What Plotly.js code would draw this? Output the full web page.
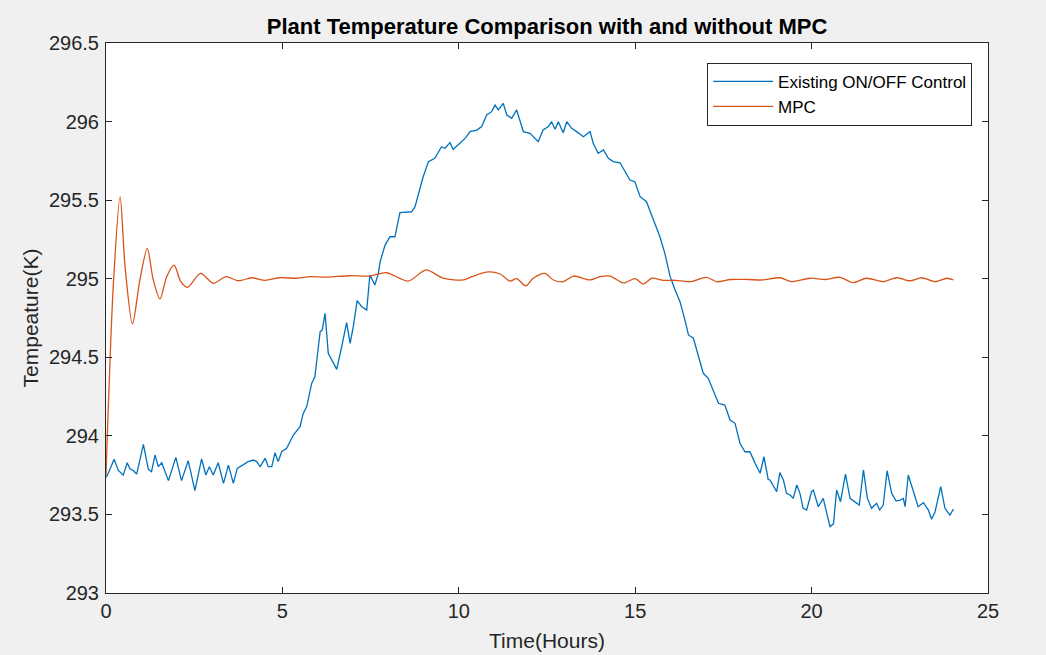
<!DOCTYPE html>
<html>
<head>
<meta charset="utf-8">
<script src="https://cdn.plot.ly/plotly-3.0.1.min.js"></script>
<style>
html,body{margin:0;padding:0;background:#f0f0f0;}
#chart{width:1046px;height:655px;}
</style>
</head>
<body>
<div id="chart"></div>
<script>
// Existing ON/OFF control (hours, K)
const timeOnOff = [0.00,0.04,0.23,0.35,0.49,0.60,0.68,0.77,0.87,1.06,1.20,1.29,1.39,1.48,1.58,1.77,1.98,2.14,2.33,2.52,2.71,2.83,2.93,3.04,3.18,3.33,3.47,3.61,3.72,3.94,4.03,4.18,4.27,4.37,4.51,4.60,4.70,4.79,4.88,4.98,5.12,5.31,5.50,5.59,5.69,5.83,5.92,6.02,6.07,6.13,6.21,6.30,6.44,6.54,6.68,6.82,6.92,7.01,7.12,7.25,7.39,7.48,7.62,7.72,7.77,7.91,8.05,8.19,8.33,8.52,8.66,8.76,8.99,9.14,9.32,9.51,9.61,9.75,9.84,10.03,10.18,10.32,10.51,10.65,10.79,10.93,11.03,11.12,11.26,11.36,11.50,11.64,11.73,11.83,12.02,12.11,12.25,12.39,12.54,12.63,12.73,12.82,12.96,13.06,13.20,13.34,13.53,13.72,13.81,13.95,14.10,14.24,14.38,14.57,14.71,14.85,14.99,15.14,15.32,15.51,15.70,15.84,15.99,16.13,16.27,16.41,16.51,16.65,16.79,16.93,17.07,17.21,17.36,17.54,17.69,17.83,17.97,18.11,18.25,18.40,18.54,18.65,18.77,18.82,19.01,19.10,19.20,19.29,19.39,19.48,19.58,19.67,19.76,19.86,20.00,20.05,20.19,20.33,20.52,20.62,20.71,20.82,20.96,21.09,21.23,21.35,21.47,21.58,21.70,21.84,21.93,22.03,22.14,22.27,22.39,22.50,22.60,22.65,22.74,22.88,23.02,23.17,23.31,23.40,23.50,23.66,23.78,23.92,24.02];
const tempOnOff = [293.736,293.750,293.851,293.780,293.750,293.829,293.790,293.780,293.757,293.946,293.787,293.772,293.878,293.804,293.829,293.715,293.863,293.715,293.842,293.651,293.853,293.751,293.804,293.751,293.829,293.698,293.814,293.698,293.793,293.825,293.836,293.846,293.836,293.804,293.857,293.804,293.804,293.893,293.836,293.899,293.921,294.005,294.058,294.143,294.186,294.334,294.376,294.567,294.663,294.674,294.780,294.525,294.462,294.423,294.567,294.720,294.589,294.695,294.860,294.822,294.801,295.024,294.960,295.034,295.108,295.214,295.267,295.267,295.420,295.426,295.426,295.458,295.649,295.745,295.766,295.840,295.830,295.866,295.823,295.862,295.893,295.936,295.946,295.968,296.042,296.063,296.105,296.074,296.116,296.042,296.021,296.074,296.010,295.936,295.925,295.904,295.872,295.946,295.968,295.999,295.951,295.999,295.929,295.999,295.957,295.936,295.904,295.936,295.862,295.798,295.819,295.766,295.745,295.738,295.681,295.628,295.617,295.522,295.490,295.374,295.267,295.161,295.013,294.928,294.854,294.737,294.642,294.621,294.504,294.398,294.366,294.292,294.207,294.196,294.101,294.080,293.953,293.899,293.899,293.825,293.762,293.867,293.723,293.719,293.645,293.766,293.719,293.634,293.624,293.602,293.687,293.634,293.539,293.528,293.645,293.655,293.549,293.602,293.422,293.440,293.655,293.581,293.757,293.602,293.581,293.560,293.783,293.602,293.539,293.571,293.528,293.560,293.778,293.634,293.587,293.590,293.602,293.549,293.751,293.645,293.549,293.575,293.528,293.469,293.517,293.677,293.539,293.496,293.534];

// MPC (hours, K)
const timeMPC = [0.00,0.21,0.40,0.54,0.75,0.96,1.17,1.34,1.53,1.72,1.93,2.12,2.31,2.68,3.04,3.40,3.75,4.13,4.51,4.93,5.40,5.78,6.25,6.92,7.48,7.95,8.57,9.07,9.56,10.13,10.37,10.84,11.17,11.45,11.64,11.90,12.11,12.44,12.68,12.96,13.25,13.72,14.00,14.29,14.66,15.00,15.23,15.47,15.80,16.13,16.56,17.02,17.31,17.70,18.20,18.60,19.10,19.43,19.95,20.40,20.80,21.18,21.56,22.03,22.41,22.79,23.12,23.50,23.83,24.02];
const tempMPC = [293.751,294.971,295.522,295.077,294.712,294.992,295.193,294.992,294.871,295.013,295.087,294.981,294.945,295.034,294.971,295.013,294.987,295.006,294.990,295.006,295.003,295.013,295.010,295.019,295.017,295.038,294.985,295.056,295.003,294.992,295.013,295.043,295.030,294.985,295.000,294.954,295.003,295.034,294.992,294.981,295.017,294.992,295.013,295.017,294.973,295.000,294.966,295.003,294.990,294.990,294.981,295.009,294.981,294.995,294.995,294.992,295.006,294.981,295.003,294.995,295.009,294.975,295.003,294.981,295.006,294.987,295.006,294.981,295.003,294.992];

const seriesNames = ["Existing ON/OFF Control", "MPC"];
const xTicks = [0,5,10,15,20,25];
const yTicks = [293,293.5,294,294.5,295,295.5,296,296.5];

const FONT = '"Liberation Sans", Arial, Helvetica, sans-serif';

const traces = [
  {x: timeOnOff, y: tempOnOff, type: 'scatter', mode: 'lines', name: seriesNames[0],
   line: {color: '#0072BD', width: 1.3}},
  {x: timeMPC, y: tempMPC, type: 'scatter', mode: 'lines', name: seriesNames[1],
   line: {color: '#D95319', width: 1.3, shape: 'spline', smoothing: 0.8}}
];

const axisCommon = {
  showline: true, mirror: 'ticks', linecolor: '#262626', linewidth: 1,
  ticks: 'inside', ticklen: 6, tickcolor: '#262626', tickwidth: 1,
  showgrid: false, zeroline: false,
  tickfont: {family: FONT, size: 20, color: '#262626'}
};

const layout = {
  width: 1046, height: 655,
  paper_bgcolor: '#f0f0f0', plot_bgcolor: '#ffffff',
  margin: {l: 106, r: 58, t: 43, b: 62, pad: 0},
  title: {text: '<b>Plant Temperature Comparison with and without MPC</b>',
          font: {family: FONT, size: 22, color: '#000000'},
          x: 0.523, xanchor: 'center', y: 0.96, yanchor: 'middle', yref: 'container'},
  xaxis: Object.assign({}, axisCommon, {
    range: [0, 25], tickvals: xTicks, ticktext: xTicks.map(String),
    title: {text: 'Time(Hours)', font: {family: FONT, size: 21, color: '#262626'}, standoff: 12}
  }),
  yaxis: Object.assign({}, axisCommon, {
    range: [293, 296.5], tickvals: yTicks, ticktext: yTicks.map(String),
    ticklabelstandoff: 2,
    title: {text: 'Tempeature(K)', font: {family: FONT, size: 21, color: '#262626'}, standoff: 4}
  }),
  showlegend: true,
  legend: {
    x: 0.982, xanchor: 'right', y: 0.964, yanchor: 'top',
    bgcolor: '#ffffff', bordercolor: '#262626', borderwidth: 1,
    font: {family: FONT, size: 17, color: '#000000'},
    itemwidth: 60, tracegroupgap: 0
  }
};

Plotly.newPlot('chart', traces, layout, {displayModeBar: false, staticPlot: true});
</script>
</body>
</html>
